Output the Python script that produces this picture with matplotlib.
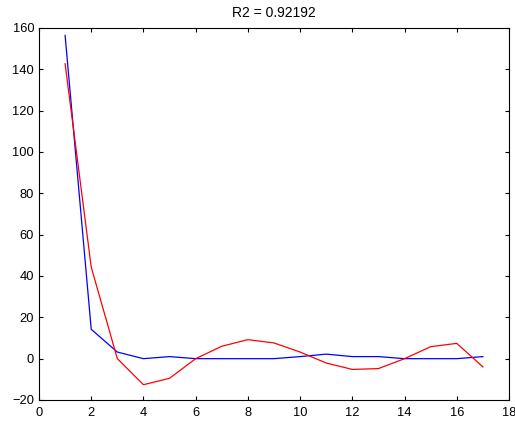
import numpy as np
import matplotlib.pyplot as plt

plt.rcParams['font.family'] = ['Liberation Sans', 'DejaVu Sans']

x = list(range(1, 18))
blue_vals = [156.4, 14.2, 3.2, 0, 1, 0, 0, 0, 0, 1, 2.2, 1, 1, 0, 0, 0, 1]
red_vals = [142.7, 44.3, 0, -12.6, -9.5, 0, 6, 9.2, 7.6, 3.2, -2.1, -5.2, -4.8, 0, 5.8, 7.4, -4]

fig = plt.figure(figsize=(5.15, 4.21), dpi=100)
ax = fig.add_axes([39 / 515, 1 - 400 / 421, 470 / 515, 372 / 421])

ax.plot(x, blue_vals, color='blue', linewidth=0.9)
ax.plot(x, red_vals, color='red', linewidth=0.9)

ax.set_xlim(0, 18)
ax.set_ylim(-20, 160)
ax.set_xticks(np.arange(0, 19, 2))
ax.set_yticks(np.arange(-20, 161, 20))
ax.tick_params(direction='in', top=True, right=True, labelsize=9.3, length=3, width=0.8)
ax.tick_params(axis='x', pad=5)
for s in ax.spines.values():
    s.set_linewidth(0.8)

ax.set_title('R2 = 0.92192', fontsize=10, pad=8)

fig.savefig('out.png', dpi=100)
